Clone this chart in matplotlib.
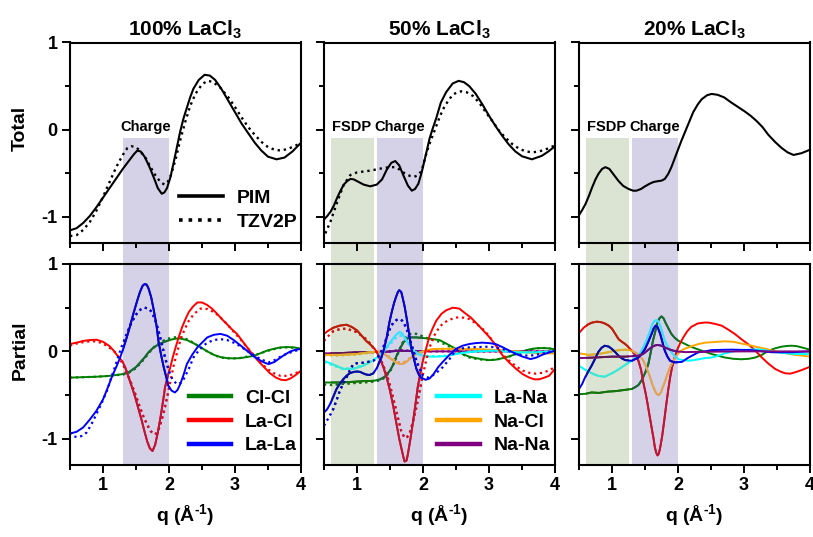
import matplotlib
matplotlib.use('Agg')
import matplotlib.pyplot as plt
from matplotlib.colors import to_rgb
from matplotlib.patches import Rectangle
from matplotlib.ticker import MultipleLocator
from matplotlib.transforms import blended_transform_factory

plt.rcParams['font.family'] = ['Liberation Sans', 'DejaVu Sans']
plt.rcParams['font.weight'] = 'bold'
plt.rcParams['mathtext.fontset'] = 'custom'
plt.rcParams['mathtext.rm'] = 'Liberation Sans:bold'
plt.rcParams['mathtext.bf'] = 'Liberation Sans:bold'
plt.rcParams['axes.unicode_minus'] = False

COLUMN_TITLES = ['100% LaCl$_3$', '50% LaCl$_3$', '20% LaCl$_3$']
PAIR_COLORS = {'Cl-Cl': 'green', 'La-Cl': 'red', 'La-La': 'blue',
               'La-Na': 'cyan', 'Na-Cl': 'orange', 'Na-Na': 'purple'}

FSDP_RANGE = [0.6, 1.25]
CHARGE_RANGE = [1.3, 2.0]

# ---------------- total S(q), 100% LaCl3
Q_TOT100_PIM = [0.5, 0.6, 0.7, 0.8, 0.9, 1.0, 1.1, 1.2, 1.3, 1.4, 1.47, 1.52, 1.57, 1.63, 1.7, 1.77,
                1.83, 1.89, 1.93, 1.97, 2.02, 2.07, 2.12, 2.17, 2.22, 2.27, 2.32, 2.37, 2.45, 2.54,
                2.62, 2.7, 2.8, 2.9, 3.0, 3.1, 3.2, 3.3, 3.4, 3.5, 3.63, 3.75, 3.87, 4.0]
TOT100_PIM = [-1.155, -1.13, -1.07, -0.99, -0.89, -0.78, -0.67, -0.56, -0.45, -0.35, -0.28, -0.24,
              -0.25, -0.31, -0.42, -0.55, -0.67, -0.735, -0.72, -0.67, -0.55, -0.38, -0.2, -0.02,
              0.13, 0.25, 0.37, 0.47, 0.57, 0.63, 0.62, 0.57, 0.46, 0.33, 0.2, 0.07, -0.04, -0.15,
              -0.24, -0.31, -0.34, -0.32, -0.25, -0.15]
Q_TOT100_DFT = [0.5, 0.6, 0.7, 0.8, 0.9, 1.0, 1.1, 1.2, 1.3, 1.37, 1.43, 1.5, 1.57, 1.65, 1.72, 1.8,
                1.87, 1.93, 1.98, 2.03, 2.1, 2.17, 2.25, 2.32, 2.4, 2.5, 2.58, 2.66, 2.78, 2.9, 3.0,
                3.1, 3.2, 3.3, 3.4, 3.5, 3.6, 3.7, 3.8, 3.9, 4.0]
TOT100_DFT = [-1.22, -1.21, -1.15, -1.06, -0.93, -0.77, -0.6, -0.43, -0.29, -0.21, -0.19, -0.2,
              -0.25, -0.33, -0.43, -0.53, -0.6, -0.63, -0.6, -0.52, -0.34, -0.12, 0.1, 0.27, 0.41,
              0.52, 0.56, 0.55, 0.48, 0.37, 0.26, 0.14, 0.03, -0.06, -0.14, -0.2, -0.23, -0.24,
              -0.22, -0.19, -0.15]

# ---------------- total S(q), 50% LaCl3
Q_TOT50_PIM = [0.5, 0.55, 0.6, 0.65, 0.7, 0.75, 0.8, 0.85, 0.9, 0.95, 1.0, 1.1, 1.2, 1.3, 1.38, 1.45,
               1.52, 1.58, 1.64, 1.7, 1.77, 1.83, 1.88, 1.93, 1.98, 2.03, 2.1, 2.15, 2.2, 2.27, 2.35,
               2.45, 2.54, 2.62, 2.7, 2.8, 2.9, 3.0, 3.1, 3.2, 3.3, 3.4, 3.5, 3.65, 3.8, 3.9, 4.0]
TOT50_PIM = [-1.03, -0.99, -0.94, -0.87, -0.78, -0.7, -0.63, -0.59, -0.565, -0.57, -0.59, -0.63,
             -0.65, -0.63, -0.57, -0.46, -0.38, -0.36, -0.41, -0.52, -0.64, -0.7, -0.68, -0.62,
             -0.49, -0.33, -0.1, 0.02, 0.13, 0.31, 0.43, 0.53, 0.56, 0.545, 0.5, 0.41, 0.29, 0.16,
             0.04, -0.07, -0.17, -0.25, -0.305, -0.34, -0.3, -0.25, -0.19]
Q_TOT50_DFT = [0.52, 0.6, 0.7, 0.8, 0.9, 1.0, 1.1, 1.2, 1.3, 1.4, 1.5, 1.58, 1.65, 1.72, 1.8, 1.87,
               1.93, 1.98, 2.04, 2.1, 2.17, 2.24, 2.3, 2.38, 2.45, 2.52, 2.58, 2.66, 2.76, 2.86, 2.96,
               3.06, 3.16, 3.26, 3.36, 3.46, 3.56, 3.66, 3.76, 3.88, 4.0]
TOT50_DFT = [-1.19, -1.05, -0.83, -0.63, -0.52, -0.49, -0.48, -0.47, -0.455, -0.44, -0.43, -0.43,
             -0.46, -0.5, -0.53, -0.54, -0.52, -0.47, -0.3, -0.16, -0.02, 0.12, 0.23, 0.33, 0.4,
             0.43, 0.44, 0.43, 0.385, 0.3, 0.19, 0.09, -0.02, -0.1, -0.17, -0.22, -0.25, -0.26,
             -0.25, -0.22, -0.18]

# ---------------- total S(q), 20% LaCl3
Q_TOT20_PIM = [0.5, 0.55, 0.6, 0.65, 0.7, 0.75, 0.8, 0.85, 0.9, 0.96, 1.02, 1.1, 1.17, 1.25, 1.32,
               1.37, 1.44, 1.5, 1.57, 1.63, 1.7, 1.75, 1.8, 1.85, 1.9, 1.98, 2.05, 2.11, 2.17, 2.23,
               2.3, 2.36, 2.44, 2.51, 2.6, 2.7, 2.81, 2.91, 3.01, 3.1, 3.19, 3.28, 3.37, 3.47, 3.57,
               3.66, 3.75, 3.87, 4.0]
TOT20_PIM = [-0.98, -0.92, -0.85, -0.76, -0.66, -0.57, -0.5, -0.45, -0.43, -0.45, -0.51, -0.59,
             -0.645, -0.68, -0.7, -0.7, -0.68, -0.65, -0.62, -0.6, -0.59, -0.585, -0.565, -0.51,
             -0.43, -0.27, -0.13, -0.02, 0.09, 0.2, 0.29, 0.35, 0.395, 0.41, 0.4, 0.37, 0.31, 0.26,
             0.21, 0.16, 0.1, 0.03, -0.06, -0.14, -0.21, -0.26, -0.29, -0.27, -0.23]

# ---------------- partials, 100% LaCl3
Q_P100_CLCL = [0.5, 0.7, 0.9, 1.1, 1.3, 1.4, 1.5, 1.56, 1.63, 1.69, 1.76, 1.82, 1.9, 1.97, 2.06, 2.15,
               2.27, 2.38, 2.48, 2.58, 2.68, 2.78, 2.88, 2.98, 3.08, 3.18, 3.29, 3.39, 3.49, 3.59,
               3.69, 3.79, 3.9, 4.0]
P100_CLCL_PIM = [-0.3, -0.295, -0.29, -0.28, -0.26, -0.235, -0.18, -0.13, -0.07, -0.01, 0.04, 0.07,
                 0.1, 0.12, 0.14, 0.15, 0.13, 0.09, 0.046, 0.0, -0.04, -0.065, -0.077, -0.08,
                 -0.077, -0.065, -0.05, -0.02, 0.01, 0.03, 0.046, 0.05, 0.045, 0.03]
P100_CLCL_DFT = [-0.3, -0.295, -0.29, -0.28, -0.265, -0.24, -0.19, -0.14, -0.08, -0.02, 0.04, 0.08,
                 0.115, 0.14, 0.16, 0.165, 0.14, 0.095, 0.045, 0.0, -0.04, -0.07, -0.08, -0.08,
                 -0.075, -0.06, -0.045, -0.02, 0.005, 0.025, 0.04, 0.045, 0.04, 0.03]

Q_P100_LACL_PIM = [0.5, 0.6, 0.7, 0.8, 0.9, 1.0, 1.1, 1.16, 1.22, 1.29, 1.34, 1.39, 1.44, 1.49, 1.54,
                   1.59, 1.63, 1.67, 1.71, 1.75, 1.79, 1.83, 1.87, 1.91, 1.94, 1.98, 2.02, 2.06, 2.1,
                   2.15, 2.2, 2.25, 2.3, 2.36, 2.43, 2.5, 2.58, 2.65, 2.73, 2.8, 2.88, 2.95, 3.03,
                   3.13, 3.24, 3.34, 3.44, 3.53, 3.62, 3.7, 3.77, 3.84, 3.92, 4.0]
P100_LACL_PIM = [0.084, 0.1, 0.12, 0.13, 0.134, 0.11, 0.06, 0.01, -0.05, -0.11, -0.19, -0.3, -0.41,
                 -0.53, -0.665, -0.8, -0.92, -1.03, -1.11, -1.14, -1.07, -0.93, -0.76, -0.57,
                 -0.41, -0.29, -0.18, -0.06, 0.046, 0.17, 0.28, 0.37, 0.45, 0.51, 0.56, 0.56, 0.53,
                 0.49, 0.43, 0.37, 0.31, 0.255, 0.2, 0.1, -0.01, -0.1, -0.18, -0.25, -0.3, -0.325,
                 -0.33, -0.31, -0.27, -0.22]
Q_P100_LACL_DFT = [0.5, 0.6, 0.7, 0.8, 0.9, 1.0, 1.1, 1.2, 1.28, 1.36, 1.42, 1.49, 1.55, 1.61, 1.67,
                   1.72, 1.76, 1.79, 1.83, 1.87, 1.92, 1.97, 2.02, 2.07, 2.12, 2.17, 2.23, 2.3, 2.38,
                   2.48, 2.58, 2.68, 2.78, 2.88, 2.98, 3.08, 3.18, 3.29, 3.39, 3.49, 3.59, 3.69,
                   3.79, 3.89, 4.0]
P100_LACL_DFT = [0.065, 0.09, 0.105, 0.115, 0.115, 0.09, 0.04, -0.02, -0.12, -0.24, -0.35, -0.49,
                 -0.62, -0.74, -0.84, -0.91, -0.94, -0.95, -0.92, -0.835, -0.7, -0.53, -0.35,
                 -0.165, -0.02, 0.12, 0.24, 0.35, 0.43, 0.49, 0.485, 0.45, 0.39, 0.31, 0.225, 0.14,
                 0.05, -0.05, -0.13, -0.2, -0.25, -0.28, -0.28, -0.26, -0.22]

Q_P100_LALA_PIM = [0.5, 0.6, 0.7, 0.8, 0.9, 1.0, 1.07, 1.13, 1.2, 1.26, 1.31, 1.36, 1.41, 1.46, 1.51,
                   1.56, 1.6, 1.63, 1.66, 1.69, 1.73, 1.77, 1.81, 1.84, 1.88, 1.92, 1.96, 1.99, 2.04,
                   2.09, 2.13, 2.17, 2.22, 2.27, 2.35, 2.43, 2.5, 2.58, 2.68, 2.78, 2.88, 2.98, 3.08,
                   3.18, 3.29, 3.39, 3.45, 3.51, 3.6, 3.69, 3.77, 3.84, 3.92, 4.0]
P100_LALA_PIM = [-0.94, -0.92, -0.87, -0.78, -0.68, -0.55, -0.42, -0.3, -0.18, -0.07, 0.04, 0.16,
                 0.29, 0.43, 0.56, 0.68, 0.75, 0.77, 0.765, 0.72, 0.62, 0.47, 0.3, 0.12, -0.04,
                 -0.18, -0.3, -0.39, -0.45, -0.47, -0.44, -0.375, -0.27, -0.146, -0.04, 0.046, 0.1,
                 0.16, 0.19, 0.2, 0.18, 0.13, 0.07, 0.008, -0.06, -0.107, -0.13, -0.146, -0.12,
                 -0.07, -0.03, 0.0, 0.02, 0.027]
Q_P100_LALA_DFT = [0.5, 0.55, 0.6, 0.67, 0.75, 0.82, 0.9, 0.98, 1.06, 1.13, 1.21, 1.28, 1.36, 1.43,
                   1.51, 1.57, 1.63, 1.69, 1.74, 1.79, 1.84, 1.89, 1.94, 1.99, 2.05, 2.12, 2.18,
                   2.22, 2.3, 2.37, 2.47, 2.58, 2.68, 2.78, 2.88, 2.98, 3.08, 3.18, 3.29, 3.39,
                   3.51, 3.6, 3.69, 3.79, 3.89, 4.0]
P100_LALA_DFT = [-0.93, -0.97, -0.98, -0.97, -0.93, -0.84, -0.72, -0.59, -0.45, -0.29, -0.11, 0.05,
                 0.2, 0.33, 0.43, 0.48, 0.5, 0.49, 0.45, 0.36, 0.24, 0.09, -0.07, -0.2, -0.32,
                 -0.375, -0.36, -0.32, -0.2, -0.07, 0.03, 0.1, 0.13, 0.14, 0.13, 0.1, 0.06, 0.008,
                 -0.045, -0.09, -0.126, -0.1, -0.06, -0.025, 0.0, 0.027]

# ---------------- partials, 50% LaCl3
Q_P50_CLCL = [0.5, 0.6, 0.74, 0.9, 1.0, 1.1, 1.25, 1.35, 1.42, 1.5, 1.55, 1.6, 1.65, 1.7, 1.75, 1.8,
              1.9, 2.0, 2.1, 2.25, 2.4, 2.5, 2.6, 2.7, 2.8, 2.9, 3.0, 3.1, 3.21, 3.31, 3.41, 3.51,
              3.61, 3.71, 3.81, 3.9, 4.0]
P50_CLCL_PIM = [-0.356, -0.356, -0.355, -0.35, -0.345, -0.34, -0.337, -0.32, -0.29, -0.22, -0.15,
                -0.05, 0.03, 0.1, 0.14, 0.16, 0.16, 0.153, 0.145, 0.13, 0.07, 0.027, -0.03, -0.06,
                -0.077, -0.09, -0.1, -0.095, -0.077, -0.055, -0.03, 0.0, 0.023, 0.035, 0.038,
                0.035, 0.023]
P50_CLCL_DFT = [-0.38, -0.385, -0.375, -0.365, -0.36, -0.355, -0.345, -0.33, -0.3, -0.23, -0.15,
                -0.06, 0.03, 0.11, 0.17, 0.2, 0.2, 0.17, 0.14, 0.11, 0.055, 0.015, -0.035, -0.07,
                -0.085, -0.095, -0.1, -0.095, -0.08, -0.06, -0.03, 0.0, 0.02, 0.035, 0.04, 0.035,
                0.025]

Q_P50_LACL_PIM = [0.5, 0.57, 0.64, 0.74, 0.84, 0.92, 1.0, 1.07, 1.14, 1.2, 1.27, 1.34, 1.4, 1.45,
                  1.5, 1.55, 1.6, 1.64, 1.67, 1.7, 1.72, 1.75, 1.77, 1.81, 1.85, 1.89, 1.92, 1.96,
                  2.0, 2.05, 2.1, 2.15, 2.2, 2.28, 2.35, 2.45, 2.55, 2.65, 2.72, 2.8, 2.9, 3.01,
                  3.11, 3.21, 3.31, 3.41, 3.51, 3.61, 3.69, 3.76, 3.84, 3.91, 4.0]
P50_LACL_PIM = [0.2, 0.24, 0.27, 0.295, 0.305, 0.28, 0.24, 0.18, 0.12, 0.08, 0.027, -0.07, -0.18,
                -0.3, -0.45, -0.63, -0.835, -1.0, -1.1, -1.2, -1.26, -1.25, -1.18, -1.0, -0.8,
                -0.58, -0.41, -0.25, -0.107, 0.04, 0.18, 0.27, 0.35, 0.43, 0.47, 0.5, 0.49, 0.43,
                0.39, 0.33, 0.25, 0.16, 0.06, -0.05, -0.13, -0.2, -0.26, -0.3, -0.32, -0.32, -0.3,
                -0.28, -0.2]
Q_P50_LACL_DFT = [0.5, 0.57, 0.64, 0.74, 0.84, 0.92, 1.0, 1.07, 1.14, 1.22, 1.3, 1.38, 1.45, 1.51,
                  1.57, 1.62, 1.67, 1.72, 1.76, 1.8, 1.85, 1.9, 1.95, 2.0, 2.05, 2.1, 2.17, 2.25,
                  2.32, 2.4, 2.48, 2.55, 2.62, 2.7, 2.8, 2.9, 3.0, 3.1, 3.2, 3.31, 3.41, 3.51, 3.61,
                  3.71, 3.81, 3.9, 4.0]
P50_LACL_DFT = [0.12, 0.18, 0.23, 0.255, 0.26, 0.24, 0.22, 0.18, 0.14, 0.07, -0.01, -0.13, -0.26,
                -0.42, -0.6, -0.76, -0.91, -0.99, -0.98, -0.93, -0.8, -0.64, -0.45, -0.26, -0.1,
                0.046, 0.18, 0.28, 0.33, 0.36, 0.385, 0.39, 0.385, 0.37, 0.32, 0.26, 0.18, 0.065,
                -0.03, -0.11, -0.17, -0.22, -0.245, -0.255, -0.245, -0.22, -0.18]

Q_P50_LALA_PIM = [0.5, 0.55, 0.59, 0.64, 0.69, 0.74, 0.79, 0.84, 0.89, 0.95, 1.0, 1.05, 1.09, 1.14,
                  1.19, 1.25, 1.3, 1.34, 1.37, 1.41, 1.45, 1.49, 1.52, 1.56, 1.59, 1.62, 1.64,
                  1.67, 1.69, 1.72, 1.75, 1.79, 1.82, 1.86, 1.9, 1.94, 1.97, 2.04, 2.1, 2.16, 2.23,
                  2.3, 2.4, 2.5, 2.6, 2.7, 2.8, 2.9, 3.0, 3.1, 3.2, 3.31, 3.41, 3.51, 3.63, 3.72,
                  3.81, 3.9, 4.0]
P50_LALA_PIM = [-0.7, -0.66, -0.605, -0.52, -0.43, -0.37, -0.32, -0.28, -0.25, -0.235, -0.23,
                -0.235, -0.25, -0.265, -0.27, -0.25, -0.19, -0.12, -0.07, 0.03, 0.16, 0.33, 0.43,
                0.55, 0.62, 0.68, 0.7, 0.68, 0.62, 0.52, 0.39, 0.2, 0.046, -0.08, -0.2, -0.27,
                -0.3, -0.325, -0.31, -0.26, -0.18, -0.12, -0.04, 0.03, 0.065, 0.084, 0.095, 0.1,
                0.095, 0.084, 0.05, 0.008, -0.03, -0.06, -0.088, -0.07, -0.038, -0.015, 0.008]
Q_P50_LALA_DFT = [0.5, 0.54, 0.59, 0.64, 0.69, 0.74, 0.79, 0.84, 0.89, 0.94, 1.0, 1.09, 1.17, 1.25,
                  1.3, 1.35, 1.4, 1.45, 1.5, 1.55, 1.6, 1.64, 1.68, 1.72, 1.76, 1.8, 1.85, 1.9,
                  1.95, 2.0, 2.08, 2.18, 2.3, 2.4, 2.5, 2.6, 2.7, 2.85, 3.0, 3.1, 3.21, 3.31, 3.41,
                  3.51, 3.61, 3.71, 3.81, 3.9, 4.0]
P50_LALA_DFT = [-0.85, -0.8, -0.73, -0.66, -0.56, -0.45, -0.37, -0.3, -0.22, -0.15, -0.135, -0.13,
                -0.12, -0.107, -0.08, -0.03, 0.05, 0.16, 0.26, 0.33, 0.36, 0.37, 0.355, 0.31, 0.24,
                0.14, 0.02, -0.107, -0.2, -0.28, -0.3, -0.26, -0.18, -0.09, 0.015, 0.035, 0.046,
                0.05, 0.054, 0.045, 0.027, 0.0, -0.03, -0.045, -0.05, -0.04, -0.023, -0.01, 0.008]

Q_P50_LANA = [0.5, 0.64, 0.79, 0.94, 1.09, 1.25, 1.33, 1.4, 1.46, 1.52, 1.58, 1.64, 1.68, 1.72,
              1.77, 1.82, 1.87, 1.92, 2.0, 2.1, 2.2, 2.35, 2.5, 2.65, 2.8, 2.95, 3.1, 3.25, 3.41,
              3.56, 3.71, 3.85, 4.0]
P50_LANA_PIM = [-0.107, -0.15, -0.2, -0.2, -0.165, -0.1, -0.05, 0.0, 0.06, 0.12, 0.18, 0.22, 0.21,
                0.16, 0.1, 0.046, 0.0, -0.03, -0.05, -0.06, -0.06, -0.055, -0.03, -0.012, 0.0,
                0.005, 0.008, 0.0, -0.01, -0.012, -0.01, -0.005, 0.0]
P50_LANA_DFT = [-0.125, -0.16, -0.2, -0.195, -0.16, -0.1, -0.055, -0.005, 0.05, 0.1, 0.15, 0.18,
                0.18, 0.15, 0.1, 0.05, 0.005, -0.025, -0.045, -0.055, -0.055, -0.05, -0.03,
                -0.012, 0.0, 0.005, 0.008, 0.0, -0.01, -0.012, -0.01, -0.005, 0.0]

Q_P50_NACL = [0.5, 0.74, 1.0, 1.19, 1.35, 1.45, 1.55, 1.61, 1.67, 1.72, 1.77, 1.82, 1.87, 2.0, 2.15,
              2.35, 2.5, 2.8, 3.1, 3.41, 3.71, 4.0]
P50_NACL_PIM = [-0.04, -0.04, -0.03, -0.01, 0.0, -0.05, -0.107, -0.135, -0.145, -0.135, -0.107,
                -0.07, -0.04, 0.0, 0.027, 0.03, 0.027, 0.027, 0.015, 0.0, -0.02, -0.023]
P50_NACL_DFT = [-0.045, -0.045, -0.035, -0.015, -0.005, -0.045, -0.095, -0.12, -0.13, -0.12,
                -0.095, -0.065, -0.035, 0.0, 0.025, 0.03, 0.027, 0.025, 0.015, 0.0, -0.018, -0.02]

Q_P50_NANA = [0.5, 0.74, 1.0, 1.25, 1.45, 1.64, 1.8, 2.0, 2.5, 3.0, 3.5, 4.0]
P50_NANA_PIM = [-0.023, -0.02, -0.01, -0.008, -0.004, 0.008, 0.004, 0.0, 0.0, 0.0, 0.0, 0.0]
P50_NANA_DFT = [-0.028, -0.024, -0.014, -0.01, -0.004, 0.012, 0.006, 0.0, 0.0, 0.0, 0.0, 0.0]

# ---------------- partials, 20% LaCl3 (PIM only)
Q_P20_CLCL = [0.5, 0.6, 0.69, 0.8, 0.94, 1.05, 1.2, 1.3, 1.35, 1.4, 1.45, 1.5, 1.55, 1.59, 1.62,
              1.66, 1.69, 1.72, 1.75, 1.78, 1.81, 1.85, 1.9, 1.95, 2.01, 2.08, 2.16, 2.26, 2.36,
              2.51, 2.61, 2.71, 2.84, 2.96, 3.07, 3.17, 3.27, 3.37, 3.47, 3.57, 3.65, 3.72, 3.8,
              3.87, 4.0]
P20_CLCL = [-0.49, -0.485, -0.47, -0.475, -0.46, -0.455, -0.44, -0.43, -0.41, -0.385, -0.33, -0.25,
            -0.146, 0.0, 0.12, 0.24, 0.33, 0.38, 0.4, 0.38, 0.33, 0.27, 0.2, 0.155, 0.12, 0.095,
            0.065, 0.035, 0.008, -0.03, -0.05, -0.07, -0.085, -0.09, -0.085, -0.07, -0.04, 0.008,
            0.035, 0.054, 0.062, 0.065, 0.06, 0.046, 0.02]

Q_P20_LACL = [0.5, 0.57, 0.64, 0.7, 0.77, 0.83, 0.89, 0.95, 1.0, 1.05, 1.1, 1.15, 1.2, 1.25, 1.3,
              1.35, 1.4, 1.44, 1.47, 1.51, 1.54, 1.57, 1.6, 1.63, 1.65, 1.67, 1.69, 1.71, 1.73,
              1.76, 1.79, 1.82, 1.85, 1.88, 1.91, 1.95, 1.98, 2.03, 2.08, 2.14, 2.2, 2.3, 2.4,
              2.46, 2.56, 2.66, 2.76, 2.86, 2.96, 3.06, 3.17, 3.27, 3.37, 3.47, 3.55, 3.62, 3.7,
              3.77, 3.85, 3.92, 4.0]
P20_LACL = [0.21, 0.27, 0.31, 0.33, 0.34, 0.335, 0.32, 0.295, 0.26, 0.2, 0.14, 0.11, 0.084, 0.05,
            0.008, -0.04, -0.107, -0.21, -0.34, -0.48, -0.605, -0.74, -0.87, -1.0, -1.1, -1.16,
            -1.19, -1.17, -1.1, -0.97, -0.8, -0.62, -0.45, -0.3, -0.18, -0.07, 0.0, 0.09, 0.16,
            0.23, 0.28, 0.32, 0.33, 0.33, 0.315, 0.295, 0.25, 0.2, 0.14, 0.084, 0.01, -0.07,
            -0.14, -0.2, -0.23, -0.25, -0.255, -0.24, -0.22, -0.2, -0.176]

Q_P20_LALA = [0.5, 0.55, 0.59, 0.64, 0.69, 0.74, 0.79, 0.84, 0.89, 0.95, 1.0, 1.05, 1.1, 1.15, 1.2,
              1.3, 1.4, 1.45, 1.5, 1.55, 1.6, 1.63, 1.66, 1.69, 1.73, 1.77, 1.8, 1.84, 1.88, 1.95,
              2.06, 2.16, 2.31, 2.41, 2.51, 2.81, 3.11, 3.42, 3.72, 4.0]
P20_LALA = [-0.43, -0.37, -0.3, -0.23, -0.165, -0.09, -0.01, 0.04, 0.065, 0.055, 0.027, -0.01,
            -0.05, -0.08, -0.1, -0.107, -0.07, -0.03, 0.027, 0.11, 0.2, 0.26, 0.295, 0.28, 0.2,
            0.09, 0.008, -0.06, -0.107, -0.126, -0.12, -0.07, -0.01, 0.0, 0.015, 0.02, 0.015,
            -0.01, -0.01, 0.0]

Q_P20_LANA = [0.5, 0.57, 0.64, 0.72, 0.79, 0.89, 1.0, 1.08, 1.15, 1.22, 1.3, 1.36, 1.42, 1.47,
              1.52, 1.57, 1.61, 1.64, 1.67, 1.7, 1.73, 1.77, 1.8, 1.85, 1.9, 1.95, 2.01, 2.08,
              2.16, 2.24, 2.31, 2.41, 2.51, 2.61, 2.71, 2.84, 2.96, 3.09, 3.22, 3.35, 3.47, 3.62,
              3.77, 4.0]
P20_LANA = [-0.165, -0.2, -0.23, -0.26, -0.28, -0.29, -0.25, -0.215, -0.18, -0.145, -0.107, -0.07,
            -0.03, 0.04, 0.12, 0.22, 0.31, 0.345, 0.36, 0.345, 0.295, 0.2, 0.12, 0.05, -0.01,
            -0.055, -0.09, -0.1, -0.107, -0.1, -0.09, -0.077, -0.07, -0.05, -0.023, 0.0, 0.015,
            0.02, 0.023, 0.01, -0.01, -0.02, -0.03, -0.03]

Q_P20_NACL = [0.5, 0.57, 0.64, 0.72, 0.79, 0.87, 0.94, 1.0, 1.05, 1.12, 1.2, 1.26, 1.32, 1.37, 1.42,
              1.47, 1.52, 1.57, 1.61, 1.65, 1.68, 1.71, 1.74, 1.76, 1.8, 1.84, 1.88, 1.93, 1.98,
              2.03, 2.1, 2.16, 2.23, 2.31, 2.41, 2.51, 2.61, 2.71, 2.84, 2.96, 3.09, 3.22, 3.35,
              3.47, 3.62, 3.77, 3.9, 4.0]
P20_NACL = [-0.023, -0.03, -0.04, -0.035, -0.03, -0.02, -0.01, 0.0, 0.008, 0.015, 0.02, 0.015,
            0.0, -0.02, -0.05, -0.1, -0.18, -0.28, -0.375, -0.45, -0.49, -0.5, -0.47, -0.43,
            -0.35, -0.26, -0.18, -0.107, -0.05, 0.0, 0.03, 0.046, 0.065, 0.084, 0.1, 0.105, 0.11,
            0.115, 0.11, 0.09, 0.07, 0.046, 0.025, 0.0, -0.02, -0.04, -0.05, -0.06]

Q_P20_NANA = [0.5, 0.74, 1.0, 1.2, 1.4, 1.47, 1.52, 1.57, 1.62, 1.66, 1.7, 1.75, 1.8, 1.86, 1.93,
              2.02, 2.11, 2.41, 3.0, 3.5, 4.0]
P20_NANA = [-0.077, -0.07, -0.06, -0.06, -0.05, -0.03, 0.0, 0.03, 0.057, 0.07, 0.073, 0.065, 0.046,
            0.025, 0.008, -0.003, -0.008, -0.004, 0.0, 0.0, 0.0]


FIG_W, FIG_H = 813, 537
COL_LEFT = [70, 324, 579]
COL_WIDTH = 231
TOP_ROW = (42.5, 243)
BOTTOM_ROW = (264, 465)
YLIM = (-1.3, 1.0)
XLIM = (0.5, 4.0)

FSDP_COLOR = '#dbe4d3'
CHARGE_COLOR = '#d5d2e8'
SHADE_MIX = 0.4


def toYCC(rgb):
    r, g, b = rgb
    y = 0.299 * r + 0.587 * g + 0.114 * b
    return y, (b - y) / 1.772, (r - y) / 1.402


def shadeColor(color, band):
    # keep the curve's brightness, pull its hue toward the band tint
    y, cb, cr = toYCC(to_rgb(color))
    _, bcb, bcr = toYCC(to_rgb(band))
    cb = (1 - SHADE_MIX) * cb + SHADE_MIX * bcb
    cr = (1 - SHADE_MIX) * cr + SHADE_MIX * bcr
    rgb = (y + 1.402 * cr, y - 0.344136 * cb - 0.714136 * cr, y + 1.772 * cb)
    return tuple(min(1.0, max(0.0, c)) for c in rgb)


def makeAxes(fig, col, row):
    top, bottom = row
    rect = [COL_LEFT[col] / FIG_W, 1 - bottom / FIG_H, COL_WIDTH / FIG_W, (bottom - top) / FIG_H]
    ax = fig.add_axes(rect)
    ax.set_facecolor('none')
    ax.set_xlim(*XLIM)
    ax.set_ylim(*YLIM)
    ax.xaxis.set_major_locator(MultipleLocator(1))
    ax.xaxis.set_minor_locator(MultipleLocator(0.5))
    ax.yaxis.set_major_locator(MultipleLocator(1))
    ax.yaxis.set_minor_locator(MultipleLocator(0.5))
    ax.tick_params(which='both', direction='out', width=1.4, top=False, right=False,
                   labelsize=13, pad=3)
    ax.tick_params(which='major', length=6)
    ax.tick_params(which='minor', length=3.5)
    for spine in ax.spines.values():
        spine.set_linewidth(1.5)
    return ax


def drawBand(fig, axTop, axBottom, span, color, label):
    # one tinted strip from just under zero in the total panel down to the bottom of the partials
    yTop = fig.transFigure.inverted().transform(axTop.transData.transform((0, -0.1)))[1]
    yBottom = 1 - BOTTOM_ROW[1] / FIG_H
    trans = blended_transform_factory(axBottom.transData, fig.transFigure)
    fig.patches.append(Rectangle((span[0], yBottom), span[1] - span[0], yTop - yBottom,
                                 transform=trans, facecolor=color, edgecolor='none', zorder=-1))
    axTop.text((span[0] + span[1]) / 2, -0.05, label, ha='center', va='bottom',
               fontsize=10.5, fontweight='bold')


def plotShaded(ax, q, v, color, bands, **kw):
    ax.plot(q, v, color=color, **kw)
    for span, band in bands:
        line, = ax.plot(q, v, color=shadeColor(color, band), **kw)
        clip = Rectangle((span[0], -5), span[1] - span[0], 10, transform=ax.transData)
        line.set_clip_path(clip)


def drawPartials(ax, curves, bands):
    for name, q, pim, qDft, dft in curves:
        plotShaded(ax, q, pim, PAIR_COLORS[name], bands, lw=1.4)
        if dft is not None:
            plotShaded(ax, qDft, dft, PAIR_COLORS[name], bands, lw=1.6, ls=':')


def addPairLegend(ax, names, x):
    handles = [plt.Line2D([], [], color=PAIR_COLORS[n], lw=3.2) for n in names]
    ax.legend(handles, names, loc='center left', bbox_to_anchor=(x, 0.215), frameon=False,
              fontsize=14, handlelength=2.2, handletextpad=0.7, labelspacing=0.32,
              borderpad=0, borderaxespad=0)


fig = plt.figure(figsize=(FIG_W / 100, FIG_H / 100), dpi=100)

totals = [
    (Q_TOT100_PIM, TOT100_PIM, Q_TOT100_DFT, TOT100_DFT),
    (Q_TOT50_PIM, TOT50_PIM, Q_TOT50_DFT, TOT50_DFT),
    (Q_TOT20_PIM, TOT20_PIM, None, None),
]
partials = [
    [('Cl-Cl', Q_P100_CLCL, P100_CLCL_PIM, Q_P100_CLCL, P100_CLCL_DFT),
     ('La-Cl', Q_P100_LACL_PIM, P100_LACL_PIM, Q_P100_LACL_DFT, P100_LACL_DFT),
     ('La-La', Q_P100_LALA_PIM, P100_LALA_PIM, Q_P100_LALA_DFT, P100_LALA_DFT)],
    [('Cl-Cl', Q_P50_CLCL, P50_CLCL_PIM, Q_P50_CLCL, P50_CLCL_DFT),
     ('Na-Na', Q_P50_NANA, P50_NANA_PIM, Q_P50_NANA, P50_NANA_DFT),
     ('Na-Cl', Q_P50_NACL, P50_NACL_PIM, Q_P50_NACL, P50_NACL_DFT),
     ('La-Na', Q_P50_LANA, P50_LANA_PIM, Q_P50_LANA, P50_LANA_DFT),
     ('La-Cl', Q_P50_LACL_PIM, P50_LACL_PIM, Q_P50_LACL_DFT, P50_LACL_DFT),
     ('La-La', Q_P50_LALA_PIM, P50_LALA_PIM, Q_P50_LALA_DFT, P50_LALA_DFT)],
    [('Cl-Cl', Q_P20_CLCL, P20_CLCL, None, None),
     ('La-Cl', Q_P20_LACL, P20_LACL, None, None),
     ('Na-Cl', Q_P20_NACL, P20_NACL, None, None),
     ('La-Na', Q_P20_LANA, P20_LANA, None, None),
     ('La-La', Q_P20_LALA, P20_LALA, None, None),
     ('Na-Na', Q_P20_NANA, P20_NANA, None, None)],
]

for col in range(3):
    axTop = makeAxes(fig, col, TOP_ROW)
    axBottom = makeAxes(fig, col, BOTTOM_ROW)
    axTop.tick_params(labelbottom=False)
    if col > 0:
        axTop.tick_params(labelleft=False)
        axBottom.tick_params(labelleft=False)
    axTop.set_title(COLUMN_TITLES[col], fontsize=15, fontweight='bold', pad=5)
    axBottom.set_xlabel('q (\u00c5$^{\\text{-1}}$)', fontsize=14, fontweight='bold', labelpad=6)

    bands = [(CHARGE_RANGE, '#6a5fb5')]
    if col > 0:
        drawBand(fig, axTop, axBottom, FSDP_RANGE, FSDP_COLOR, 'FSDP')
        bands.append((FSDP_RANGE, '#7f9a62'))
    drawBand(fig, axTop, axBottom, CHARGE_RANGE, CHARGE_COLOR, 'Charge')

    q, pim, qDft, dft = totals[col]
    axTop.plot(q, pim, color='black', lw=1.5)
    if dft is not None:
        axTop.plot(qDft, dft, color='black', lw=1.7, ls=':')

    drawPartials(axBottom, partials[col], bands)

    if col == 0:
        methodHandles = [plt.Line2D([], [], color='black', lw=2.6),
                         plt.Line2D([], [], color='black', lw=2.6, ls=':')]
        axTop.legend(methodHandles, ['PIM', 'TZV2P'], loc='center left',
                     bbox_to_anchor=(0.47, 0.165), frameon=False, fontsize=14,
                     handlelength=2.3, handletextpad=0.7, labelspacing=0.32,
                     borderpad=0, borderaxespad=0)
        addPairLegend(axBottom, ['Cl-Cl', 'La-Cl', 'La-La'], 0.513)
    elif col == 1:
        addPairLegend(axBottom, ['La-Na', 'Na-Cl', 'Na-Na'], 0.49)

fig.text(20 / FIG_W, 1 - 128.5 / FIG_H, 'Total', rotation=90, ha='center', va='center',
         fontsize=14, fontweight='bold')
fig.text(20 / FIG_W, 1 - 350.7 / FIG_H, 'Partial', rotation=90, ha='center', va='center',
         fontsize=14, fontweight='bold')

fig.savefig('out.png', dpi=100)
